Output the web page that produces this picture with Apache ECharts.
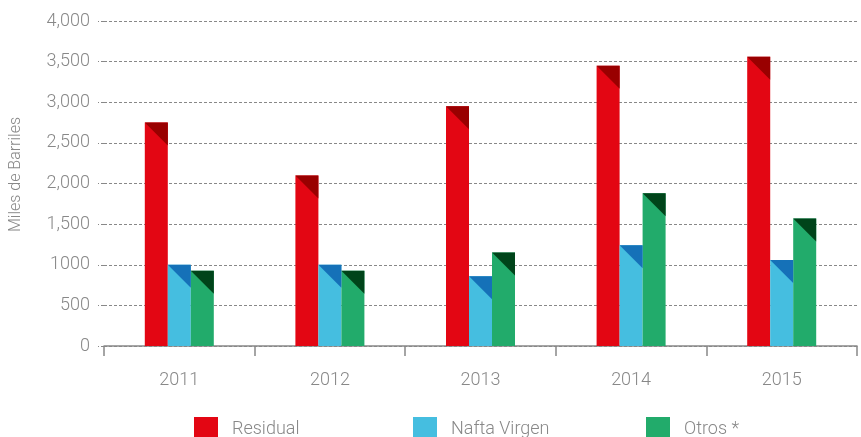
<!DOCTYPE html>
<html>
<head>
<meta charset="utf-8">
<script src="https://cdn.jsdelivr.net/npm/echarts@6/dist/echarts.min.js"></script>
<style>
  html, body { margin: 0; padding: 0; background: #fff; }
  #chart { width: 861px; height: 437px; }
</style>
</head>
<body>
<div id="chart"></div>
<script>
// datos
var years = ['2011', '2012', '2013', '2014', '2015']
var residual = [2750, 2100, 2950, 3450, 3560]
var naftaVirgen = [1000, 1000, 860, 1240, 1060]
var otros = [925, 925, 1150, 1880, 1570]
var seriesNames = ['Residual', 'Nafta Virgen', 'Otros *']

var colors = ['#e30613', '#45bee0', '#22ab6b']
var darkColors = ['#990000', '#1571b8', '#00441a']
var BAR_W = 23
var FONT = 'Roboto, "Liberation Sans", sans-serif'

// triangulo oscuro en la esquina superior de cada barra
function triangle (idx) {
  return function (params, api) {
    var p = api.coord([api.value(0), api.value(1)])
    var x0 = p[0] + (idx - 1.5) * BAR_W
    return {
      type: 'polygon',
      shape: { points: [[x0, p[1]], [x0 + BAR_W, p[1]], [x0 + BAR_W, p[1] + BAR_W]] },
      style: { fill: darkColors[idx] }
    }
  }
}

var values = [residual, naftaVirgen, otros]
var series = []
values.forEach(function (data, i) {
  series.push({
    name: seriesNames[i],
    type: 'bar',
    data: data,
    barWidth: BAR_W,
    barGap: '0%',
    itemStyle: { color: colors[i] }
  })
})
values.forEach(function (data, i) {
  series.push({
    type: 'custom',
    renderItem: triangle(i),
    data: data.map(function (v, j) { return [j, v] }),
    z: 5,
    silent: true
  })
})

var legendLeft = [194, 413, 646]
var legends = seriesNames.map(function (n, i) {
  return {
    data: [n],
    left: legendLeft[i],
    top: 417,
    padding: 0,
    itemWidth: 24,
    itemHeight: 24,
    icon: 'rect',
    selectedMode: false,
    textStyle: { color: '#888', fontSize: 18, fontFamily: FONT, fontWeight: 300, padding: [0, 0, 5, 9] }
  }
})

var chart = echarts.init(document.getElementById('chart'))
chart.setOption({
  animation: false,
  legend: legends,
  grid: { left: 103, right: 4, top: 21, bottom: 91 },
  xAxis: {
    type: 'category',
    data: years,
    axisLine: { lineStyle: { color: '#888', width: 1.5 } },
    axisTick: { show: true, length: 10, lineStyle: { color: '#888', width: 1.5 } },
    axisLabel: { color: '#888', fontSize: 18, fontFamily: FONT, fontWeight: 300, margin: 25 }
  },
  yAxis: {
    type: 'value',
    min: 0,
    max: 4000,
    interval: 500,
    name: 'Miles de Barriles',
    nameLocation: 'middle',
    nameGap: 80,
    nameTextStyle: { color: '#888', fontSize: 16, fontFamily: FONT, fontWeight: 300, padding: [0, 0, 0, 18] },
    axisLine: { show: false },
    axisTick: { show: true, length: 6, lineStyle: { color: '#888', type: [3, 2] } },
    splitLine: { lineStyle: { color: '#888', type: [3, 2] } },
    axisLabel: {
      color: '#888',
      fontSize: 18,
      fontFamily: FONT,
      fontWeight: 300,
      margin: 14,
      formatter: function (v) {
        if (v < 1500) return String(v)
        return v.toLocaleString('en-US')
      }
    }
  },
  series: series
})
</script>
</body>
</html>
